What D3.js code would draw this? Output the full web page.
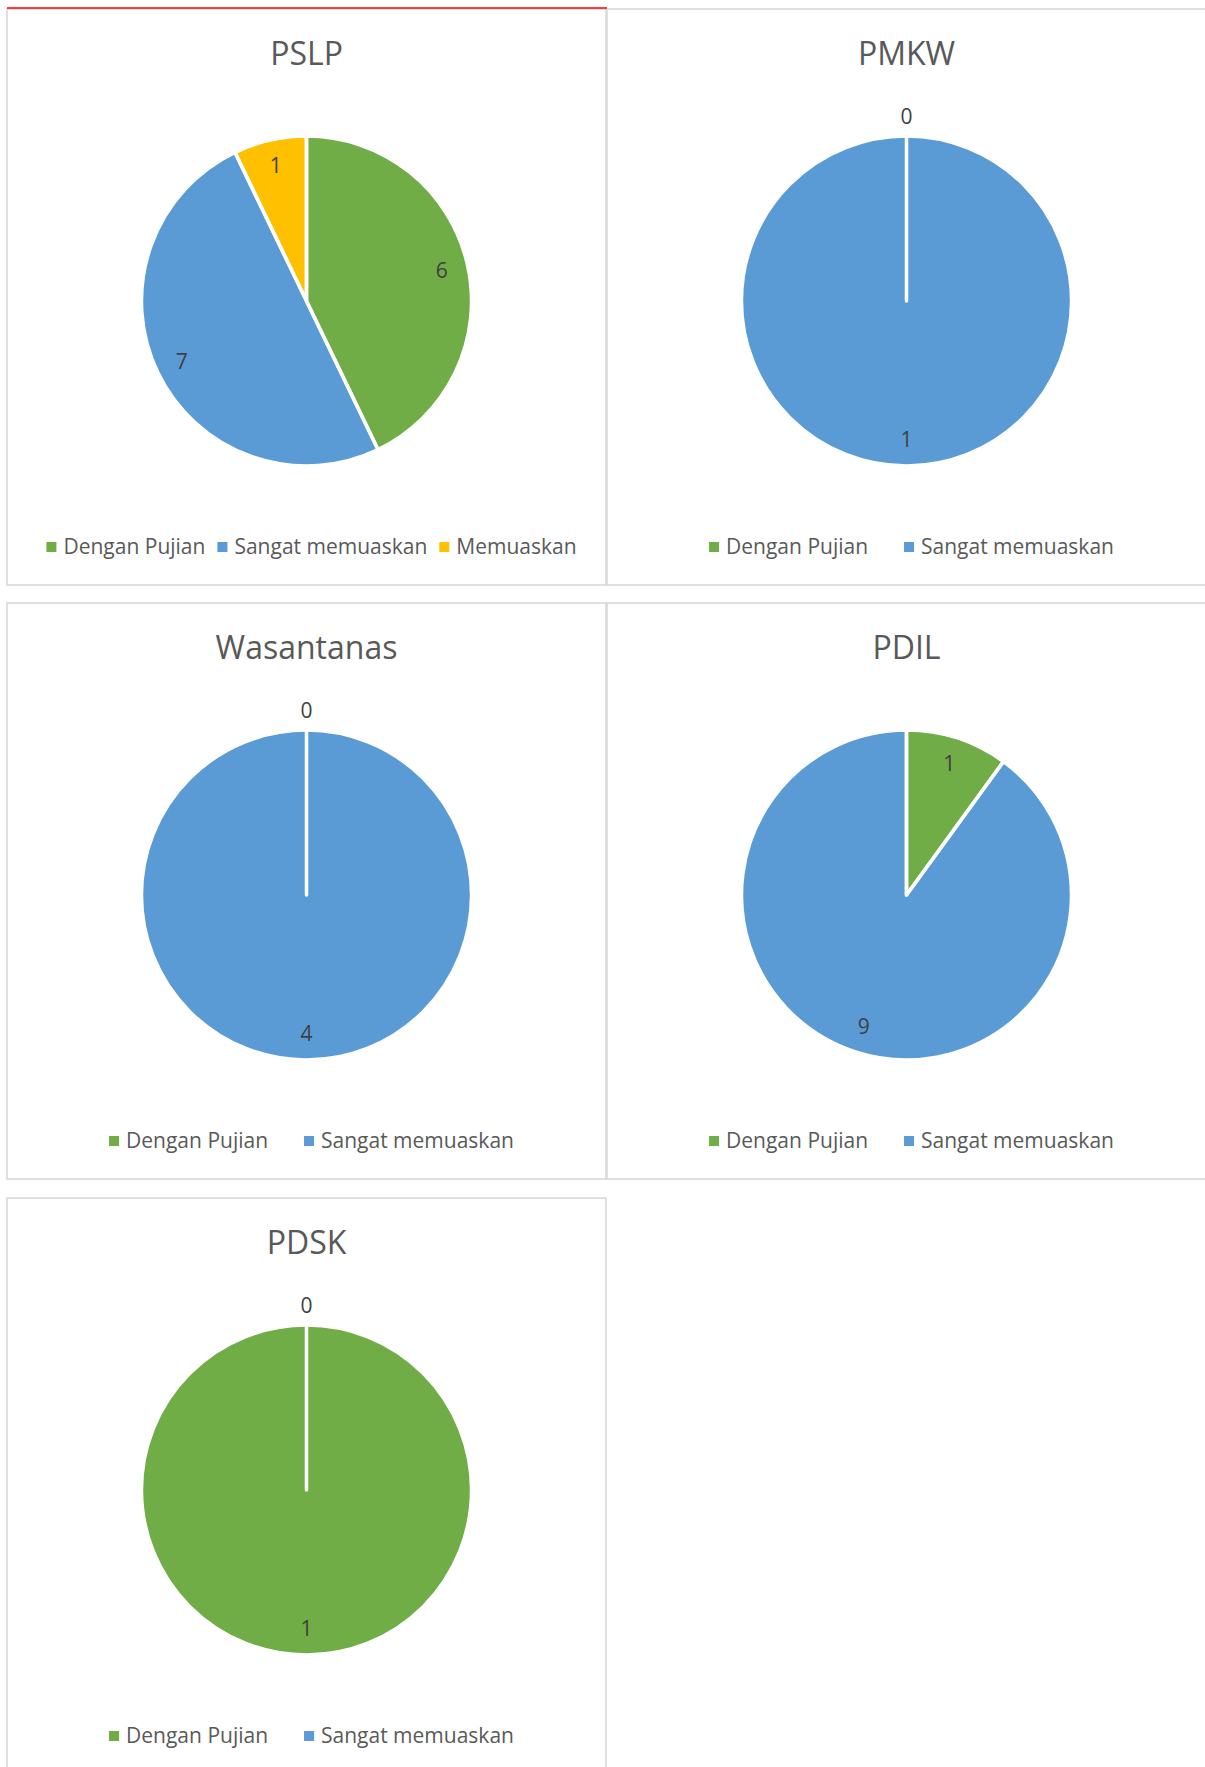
<!DOCTYPE html>
<html>
<head>
<meta charset="utf-8">
<script src="https://cdn.jsdelivr.net/npm/d3@7"></script>
<style>
	body { margin: 0; background: #fff; }
	text { font-family: "Open Sans", "Noto Sans", sans-serif; }
</style>
</head>
<body>
<div id="charts-box"></div>
<script>
// DATA
const titles = ["PSLP", "PMKW", "Wasantanas", "PDIL", "PDSK"];
const categories = ["Dengan Pujian", "Sangat memuaskan", "Memuaskan"];
const colors = ["#70AD47", "#5B9BD5", "#FFC000"];
const pslpValues = [6, 7, 1];
const pmkwValues = [0, 1];
const wasantanasValues = [0, 4];
const pdilValues = [1, 9];
const pdskValues = [1, 0];
const seriesValues = [pslpValues, pmkwValues, wasantanasValues, pdilValues, pdskValues];


/** DRAW ONE PIE PANEL
	* @parameter svg: root selection
	* @parameter x0, y0: top left corner of the panel
	* @parameter title: chart title
	* @parameter values: slice values, in category order
	*/
function drawPiePanel(svg, x0, y0, title, values) {
	const panelW = 599;
	const panelH = 576;
	const radius = 165;
	const cx = panelW / 2;
	const cy = 292;

	const g = svg.append("g")
		.attr("transform", `translate(${x0},${y0})`);

	// panel frame
	g.append("rect")
		.attr("width", panelW)
		.attr("height", panelH)
		.attr("fill", "#fff")
		.attr("stroke", "#D9D9D9")
		.attr("stroke-width", 1.6);

	// title
	g.append("text")
		.attr("x", cx)
		.attr("y", 56)
		.attr("text-anchor", "middle")
		.attr("font-size", 32)
		.attr("fill", "#595959")
		.text(title);

	const data = values.map((v, i) => ({ name: categories[i], value: v, color: colors[i] }));
	const pie = d3.pie().sort(null).value(d => d.value);
	const arcs = pie(data);
	const arc = d3.arc().innerRadius(0).outerRadius(radius);
	const labelArc = d3.arc().innerRadius(radius * 0.84).outerRadius(radius * 0.84);
	const outerArc = d3.arc().innerRadius(radius + 20).outerRadius(radius + 20);

	const pieG = g.append("g")
		.attr("transform", `translate(${cx},${cy})`);

	// fills first, white borders on top (so zero slices leave a white line)
	pieG.selectAll("path.fill")
		.data(arcs)
		.enter()
		.append("path")
			.attr("class", "fill")
			.attr("d", arc)
			.attr("fill", d => d.data.color);
	pieG.selectAll("path.edge")
		.data(arcs)
		.enter()
		.append("path")
			.attr("class", "edge")
			.attr("d", arc)
			.attr("fill", "none")
			.attr("stroke", "#fff")
			.attr("stroke-width", 3.5)
			.attr("stroke-linejoin", "round");

	// data labels
	pieG.selectAll("text")
		.data(arcs)
		.enter()
		.append("text")
			.attr("transform", d => {
				const c = d.data.value === 0 ? outerArc.centroid(d) : labelArc.centroid(d);
				return `translate(${c[0]},${c[1]})`;
			})
			.attr("text-anchor", "middle")
			.attr("dy", "0.36em")
			.attr("font-size", 21)
			.attr("fill", "#404040")
			.text(d => d.data.value);

	// legend
	const gap = data.length > 2 ? 12 : 36;
	const legend = g.append("g");
	const items = legend.selectAll("g")
		.data(data)
		.enter()
		.append("g");
	items.append("rect")
		.attr("y", 538 - 5)
		.attr("width", 10)
		.attr("height", 10)
		.attr("fill", d => d.color);
	items.append("text")
		.attr("x", 17)
		.attr("y", 545)
		.attr("font-size", 21)
		.attr("fill", "#595959")
		.text(d => d.name);
	let offset = 0;
	items.each(function () {
		const w = 17 + d3.select(this).select("text").node().getComputedTextLength();
		d3.select(this).attr("transform", `translate(${offset},0)`);
		offset += w + gap;
	});
	const total = offset - gap;
	legend.attr("transform", `translate(${cx + 5 - total / 2},0)`);
}


document.addEventListener("DOMContentLoaded", () => {
	const width = 1205;
	const height = 1767;
	const svg = d3.select("#charts-box")
		.append("svg")
		.attr("width", width)
		.attr("height", height);

	svg.append("rect")
		.attr("width", width)
		.attr("height", height)
		.attr("fill", "#fff");

	const colX = [7, 607];
	const rowY = [9, 603, 1198];
	titles.forEach((t, i) => {
		drawPiePanel(svg, colX[i % 2], rowY[Math.floor(i / 2)], t, seriesValues[i]);
	});

	// thin red line along the top of the first panel
	svg.append("line")
		.attr("x1", 7)
		.attr("x2", 607)
		.attr("y1", 8)
		.attr("y2", 8)
		.attr("stroke", "#FF0000")
		.attr("stroke-width", 1.5);
});
</script>
</body>
</html>
